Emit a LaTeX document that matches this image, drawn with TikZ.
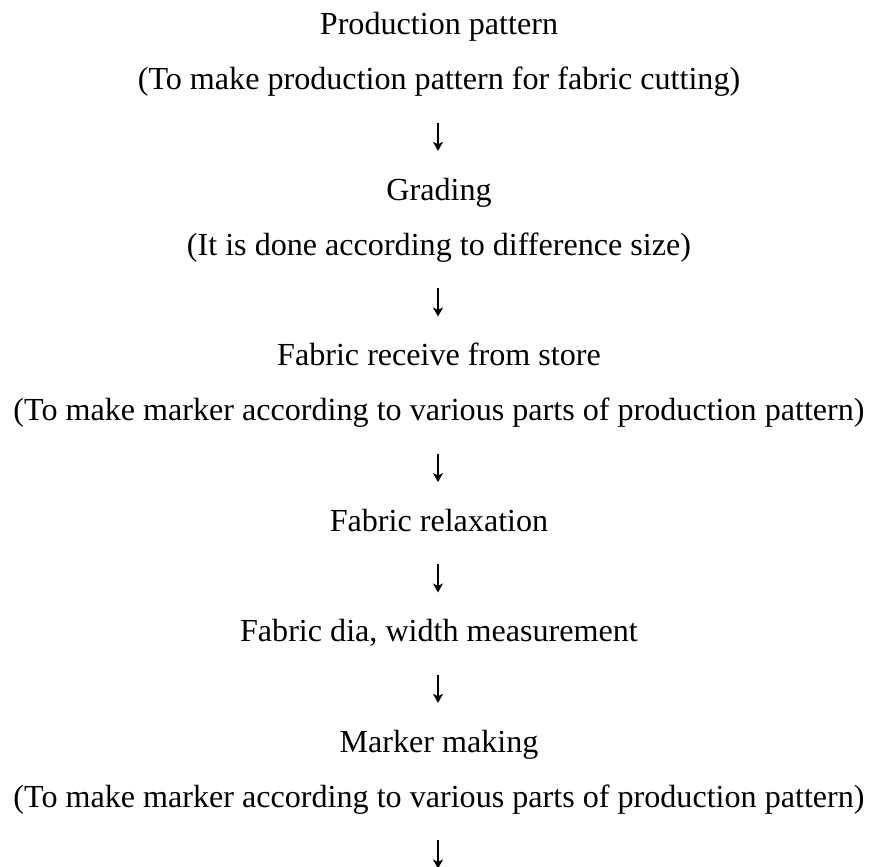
\documentclass[tikz,border=0pt]{standalone}
\usepackage{fontspec}
\setmainfont{Liberation Serif}
\usetikzlibrary{arrows.meta}

% drawing unit: the widest line is 848 units wide
\newlength\pxunit
\settowidth\pxunit{\fontsize{12}{14}\selectfont (To make marker according to various parts of production pattern)}
\setlength\pxunit{0.00117925\pxunit}

% arrow tip sizes in drawing units
\newlength\tipL \setlength\tipL{9\pxunit}
\newlength\tipW \setlength\tipW{10\pxunit}
\newlength\tipI \setlength\tipI{2.5\pxunit}
\newlength\stemW \setlength\stemW{1.4\pxunit}

\tikzset{
  steptext/.style={anchor=base, inner sep=0pt, font=\fontsize{12}{14}\selectfont},
  flowarrow/.style={line width=\the\stemW,
    -{Stealth[length=\the\tipL, width=\the\tipW, inset=\the\tipI]}},
}

\begin{document}
\begin{tikzpicture}[x=\pxunit, y=\pxunit]
  \useasboundingbox (0,0) rectangle (869,-867);

  % text rows: baseline of row i at 34.5 + 55.2 i
  \node[steptext] (r0)  at (439,{-(34.5+55.2*0)})  {Production pattern};
  \node[steptext] (r1)  at (439,{-(34.5+55.2*1)})  {(To make production pattern for fabric cutting)};
  \node[steptext] (r3)  at (439,{-(34.5+55.2*3)})  {Grading};
  \node[steptext] (r4)  at (439,{-(34.5+55.2*4)})  {(It is done according to difference size)};
  \node[steptext] (r6)  at (439,{-(34.5+55.2*6)})  {Fabric receive from store};
  \node[steptext] (r7)  at (439,{-(34.5+55.2*7)})  {(To make marker according to various parts of production pattern)};
  \node[steptext] (r9)  at (439,{-(34.5+55.2*9)})  {Fabric relaxation};
  \node[steptext] (r11) at (439,{-(34.5+55.2*11)}) {Fabric dia, width measurement};
  \node[steptext] (r13) at (439,{-(34.5+55.2*13)}) {Marker making};
  \node[steptext] (r14) at (439,{-(34.5+55.2*14)}) {(To make marker according to various parts of production pattern)};

  % arrow rows: stem from 12.5 + 55.2 i down 28 units
  \foreach \i in {2,5,8,10,12,15} {
    \coordinate (a\i top) at (438,{-(12.5+55.2*\i)});
    \coordinate (a\i bot) at (438,{-(40.5+55.2*\i)});
    \draw[flowarrow] (a\i top) -- (a\i bot);
  }
\end{tikzpicture}
\end{document}
